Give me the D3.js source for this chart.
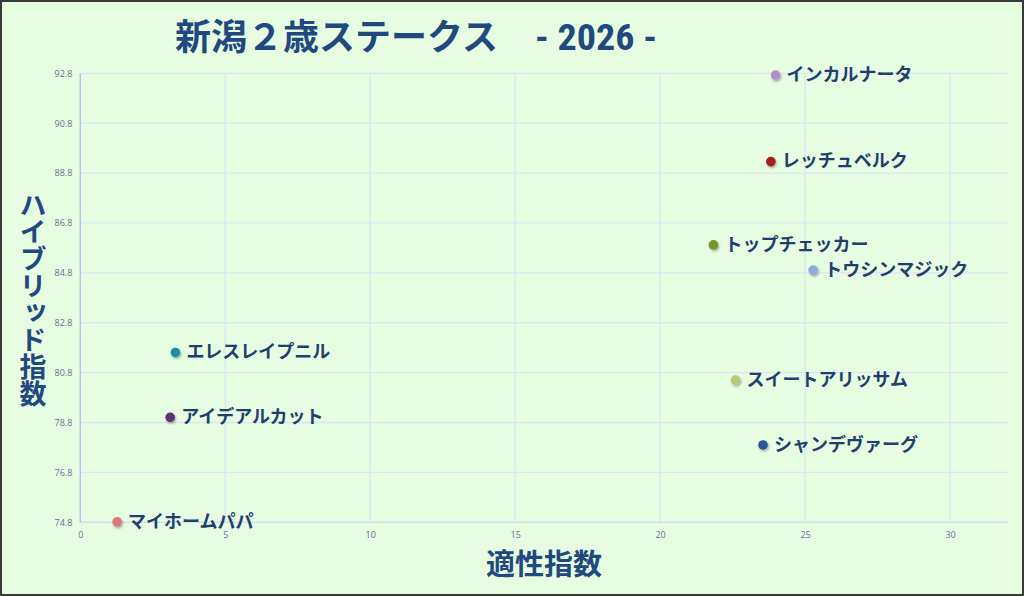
<!DOCTYPE html>
<html><head><meta charset="utf-8">
<script src="https://cdn.jsdelivr.net/npm/d3@7"></script>
<style>
html,body{margin:0;padding:0;background:#e6fde2;}
svg{display:block;}
</style></head>
<body>
<svg id="chart" width="1024" height="596"></svg>
<script>
const names = ["インカルナータ","レッチュベルク","トップチェッカー","トウシンマジック","エレスレイプニル","スイートアリッサム","アイデアルカット","シャンデヴァーグ","マイホームパパ"];
const xValues = [23.98, 23.82, 21.84, 25.28, 3.28, 22.60, 3.10, 23.55, 1.27];
const yValues = [92.73, 89.26, 85.92, 84.91, 81.61, 80.50, 79.01, 77.90, 74.82];
const colors = ["#b48fcc","#a81c1c","#6f9a25","#8eaad8","#1f8ea6","#b8c77a","#5b3479","#2b5697","#dc7a7a"];
const xTicks = [0,5,10,15,20,25,30];
const yTicks = [74.8,76.8,78.8,80.8,82.8,84.8,86.8,88.8,90.8,92.8];
const titleMain = "新潟２歳ステークス";
const titleYear = "- 2026 -";
const xTitle = "適性指数";
const yTitle = "ハイブリッド指数";

const W=1024,H=596;
const svg=d3.select("#chart");
const defs=svg.append("defs");
const f=defs.append("filter").attr("id","sh").attr("x","-50%").attr("y","-50%").attr("width","200%").attr("height","200%");
f.append("feDropShadow").attr("dx",1).attr("dy",1.5).attr("stdDeviation",1.3).attr("flood-color","#000").attr("flood-opacity",0.35);

svg.append("rect").attr("x",1).attr("y",1).attr("width",W-2).attr("height",H-2)
  .attr("fill","#e6fde2").attr("stroke","#3a3a3a").attr("stroke-width",2);

const L=80.3,R=1008,T=73.3,B=522.3;
const x=d3.scaleLinear().domain([0,32]).range([L,R]);
const y=d3.scaleLinear().domain([74.8,92.8]).range([B,T]);

// grid
const g=svg.append("g");
g.selectAll(".gx").data(xTicks.filter(d=>d>0)).enter().append("line")
  .attr("x1",d=>x(d)).attr("x2",d=>x(d)).attr("y1",T).attr("y2",B)
  .attr("stroke","#d9e5f4").attr("stroke-width",1.3);
g.selectAll(".gy").data(yTicks.filter(d=>d>74.8)).enter().append("line")
  .attr("x1",L).attr("x2",R).attr("y1",d=>y(d)).attr("y2",d=>y(d))
  .attr("stroke","#d9e5f4").attr("stroke-width",1.3);
// axes lines
svg.append("line").attr("x1",L).attr("x2",R).attr("y1",B).attr("y2",B).attr("stroke","#d0def2").attr("stroke-width",1.5);
svg.append("line").attr("x1",L).attr("x2",L).attr("y1",T).attr("y2",B).attr("stroke","#a9c6ee").attr("stroke-width",1.5);

// axes via d3
const xa=svg.append("g").attr("transform",`translate(0,${B})`)
  .call(d3.axisBottom(x).tickValues(xTicks).tickSize(0).tickPadding(9).tickFormat(d3.format("d")));
const ya=svg.append("g").attr("transform",`translate(${L},0)`)
  .call(d3.axisLeft(y).tickValues(yTicks).tickSize(0).tickPadding(8).tickFormat(d3.format(".1f")));
[xa,ya].forEach(a=>{a.select(".domain").remove();
  a.selectAll("text").attr("fill","#5c7497").attr("font-size","9px").attr("font-family","'Open Sans',sans-serif");});

// points
const pts=names.map((n,i)=>({n,x:xValues[i],y:yValues[i],c:colors[i]}));
svg.selectAll(".dot").data(pts).enter().append("circle")
  .attr("cx",d=>x(d.x)).attr("cy",d=>y(d.y)).attr("r",4.8)
  .attr("fill",d=>d.c).attr("filter","url(#sh)");
svg.selectAll(".lbl").data(pts).enter().append("text")
  .attr("x",d=>x(d.x)+11).attr("y",d=>y(d.y)).attr("dy","0.32em")
  .attr("font-family","'Noto Sans CJK JP',sans-serif").attr("font-weight","bold")
  .attr("font-size","18px").attr("fill","#1f3f6e").text(d=>d.n);

// title
const tt=svg.append("text").attr("x",175).attr("y",50)
  .attr("font-family","'Noto Sans CJK JP',sans-serif").attr("font-weight","bold")
  .attr("fill","#22497f");
tt.append("tspan").attr("font-size","36px").text(titleMain);
tt.append("tspan").attr("x",535).attr("font-size","36px").attr("textLength",122).attr("lengthAdjust","spacingAndGlyphs")
  .attr("font-family","'Roboto Condensed','Liberation Sans Narrow','DejaVu Sans Condensed',sans-serif").text(titleYear);

// x title
svg.append("text").attr("x",544).attr("y",575).attr("text-anchor","middle")
  .attr("font-family","'Noto Sans CJK JP',sans-serif").attr("font-weight","bold")
  .attr("font-size","29px").attr("fill","#22497f").text(xTitle);
// y title vertical
svg.append("text").attr("x",33).attr("y",191)
  .attr("font-family","'Noto Sans CJK JP',sans-serif").attr("font-weight","bold")
  .attr("font-size","27px").attr("fill","#22497f")
  .style("writing-mode","vertical-rl").style("text-orientation","upright")
  .text(yTitle);
</script>
</body></html>
